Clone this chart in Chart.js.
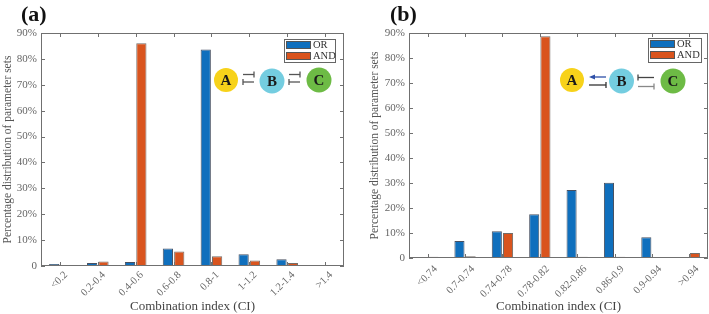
<!DOCTYPE html>
<html>
<head>
<meta charset="utf-8">
<script src="https://cdn.jsdelivr.net/npm/chart.js@4"></script>
<style>
html,body{margin:0;padding:0;background:#fff;}
#wrap{position:relative;width:709px;height:314px;overflow:hidden;}
canvas{position:absolute;top:0;}
</style>
</head>
<body>
<div id="wrap">
<canvas id="ca" width="354" height="314" style="left:0"></canvas>
<canvas id="cb" width="355" height="314" style="left:354px"></canvas>
</div>
<script>
// ---- data ----
const catsA = ['<0.2','0.2-0.4','0.4-0.6','0.6-0.8','0.8-1','1-1.2','1.2-1.4','>1.4'];
const orA   = [0.8, 1.2, 1.5, 6.8, 83.6, 4.5, 2.6, 0.3];
const andA  = [0.1, 1.7, 86.0, 5.6, 3.8, 2.1, 1.2, 0.0];
const catsB = ['<0.74','0.7-0.74','0.74-0.78','0.78-0.82','0.82-0.86','0.86-0.9','0.9-0.94','>0.94'];
const orB   = [0.0, 6.8, 10.7, 17.5, 27.2, 30.1, 8.3, 0.2];
const andB  = [0.5, 0.7, 10.0, 88.7, 0.5, 0.5, 0.0, 2.0];
const yTicks = [0,10,20,30,40,50,60,70,80,90];
const seriesNames = ['OR','AND'];

const BLUE = '#0f6fbd', ORANGE = '#d9541e';
const SERIF = '"Liberation Serif", "DejaVu Serif", serif';

function line(ctx,x1,y1,x2,y2){ctx.beginPath();ctx.moveTo(x1,y1);ctx.lineTo(x2,y2);ctx.stroke();}

const frame = {
  id:'frame',
  afterDatasetsDraw(chart){
    const {ctx, chartArea:a, scales:{x,y}} = chart;
    ctx.save();
    ctx.strokeStyle = '#707070'; ctx.lineWidth = 1;
    ctx.strokeRect(Math.round(a.left)+0.5, Math.round(a.top)+0.5, Math.round(a.right-a.left)-1, Math.round(a.bottom-a.top)-1);
    y.ticks.forEach(t=>{
      const py = Math.round(y.getPixelForValue(t.value))+0.5;
      line(ctx,a.left,py,a.left+4,py); line(ctx,a.right-4,py,a.right,py);
    });
    x.ticks.forEach((t,i)=>{
      const px = Math.round(x.getPixelForTick(i))+0.5;
      line(ctx,px,a.bottom,px,a.bottom-4); line(ctx,px,a.top,px,a.top+4);
    });
    ctx.restore();
  }
};

function circle(ctx,cx,cy,r,fill,letter){
  ctx.beginPath();ctx.arc(cx,cy,r,0,Math.PI*2);ctx.fillStyle=fill;ctx.fill();
  ctx.fillStyle='#1a1a1a';ctx.font='bold 15px '+SERIF;ctx.textAlign='center';ctx.textBaseline='middle';
  ctx.fillText(letter,cx,cy+1);
}
function tbar(ctx,x1,x2,y,barAt,color){
  ctx.strokeStyle=color;ctx.lineWidth=1.3;
  line(ctx,x1,y,x2,y);
  const bx = barAt==='r'?x2:x1;
  line(ctx,bx,y-3,bx,y+3);
}
function arrowL(ctx,x1,x2,y,color){
  ctx.strokeStyle=color;ctx.fillStyle=color;ctx.lineWidth=1.3;
  line(ctx,x1+3,y,x2,y);
  ctx.beginPath();ctx.moveTo(x1,y);ctx.lineTo(x1+6,y-2.5);ctx.lineTo(x1+6,y+2.5);ctx.closePath();ctx.fill();
}

const deco = {
  id:'deco',
  afterDraw(chart,args,o){
    const ctx = chart.ctx;
    ctx.save();
    // panel label
    ctx.fillStyle='#111';ctx.font='bold 22px '+SERIF;ctx.textAlign='left';ctx.textBaseline='alphabetic';
    ctx.fillText(o.label,o.labelX,21);
    // legend
    const L=o.legend;
    ctx.fillStyle='#fff';ctx.fillRect(L.x,L.y,L.w,L.h);
    ctx.strokeStyle='#666';ctx.lineWidth=1;ctx.strokeRect(L.x+0.5,L.y+0.5,L.w-1,L.h-1);
    chart.data.datasets.forEach((ds,i)=>{
      const sy = L.y+2+i*11;
      ctx.fillStyle=ds.backgroundColor;ctx.fillRect(L.x+2,sy,25,8);
      ctx.strokeStyle='#555';ctx.strokeRect(L.x+2.5,sy+0.5,24,7);
      ctx.fillStyle='#333';ctx.font='10.5px '+SERIF;ctx.textBaseline='middle';ctx.textAlign='left';
      ctx.fillText(ds.label,L.x+29,sy+4.5);
    });
    // diagram
    if(o.diagram==='a'){
      circle(ctx,226,80,12,'#f7d21a','A');
      circle(ctx,272,81,12.5,'#74cde0','B');
      circle(ctx,319,80,12.5,'#6dbb45','C');
      tbar(ctx,243,254,74.5,'r','#555');
      tbar(ctx,243,254,82,'l','#555');
      tbar(ctx,289,300,74.5,'r','#555');
      tbar(ctx,289,300,82,'l','#555');
    } else {
      const d=-354;
      circle(ctx,572+d,80,12,'#f7d21a','A');
      circle(ctx,621.5+d,81,12.5,'#74cde0','B');
      circle(ctx,673+d,81,12.5,'#6dbb45','C');
      arrowL(ctx,589+d,606+d,77,'#2e50a8');
      tbar(ctx,589+d,606+d,85,'r','#333');
      tbar(ctx,638+d,654+d,77.5,'l','#444');
      tbar(ctx,638+d,654+d,86.5,'r','#888');
    }
    ctx.restore();
  }
};

function makeChart(id,cats,orv,andv,cfg){
  return new Chart(document.getElementById(id),{
    type:'bar',
    data:{labels:cats,datasets:[
      {label:seriesNames[0],data:orv,backgroundColor:BLUE,borderColor:'rgba(40,50,70,0.85)',borderWidth:1,categoryPercentage:0.6,barPercentage:0.9},
      {label:seriesNames[1],data:andv,backgroundColor:ORANGE,borderColor:'rgba(70,60,55,0.75)',borderWidth:1,categoryPercentage:0.6,barPercentage:0.9}
    ]},
    options:{
      responsive:false,animation:false,
      layout:{padding:{top:33,right:cfg.padRight,left:cfg.padLeft,bottom:0}},
      plugins:{legend:{display:false},tooltip:{enabled:false},
        deco:{label:cfg.label,labelX:cfg.labelX,legend:cfg.legend,diagram:cfg.diagram}},
      scales:{
        x:{
          grid:{display:true,drawOnChartArea:false,drawTicks:false},
          border:{display:false},
          ticks:{font:{family:SERIF,size:10.5},color:'#666',minRotation:45,maxRotation:45,padding:cfg.xpad,labelOffset:cfg.xoff,autoSkip:false},
          title:{display:true,text:'Combination index (CI)',font:{family:SERIF,size:13},color:'#444',padding:{top:0,bottom:0}},
          afterFit(s){s.height=cfg.xh;}
        },
        y:{
          min:0,max:90,
          afterBuildTicks(s){s.ticks=yTicks.map(v=>({value:v}));},
          grid:{display:true,drawOnChartArea:false,drawTicks:false},
          border:{display:false},
          ticks:{font:{family:SERIF,size:11},color:'#666',padding:4,callback:v=>v===0?'0':v+'%'},
          title:{display:true,text:'Percentage distribution of parameter sets',font:{family:SERIF,size:11.5},color:'#555',padding:{top:1,bottom:0}},
          afterFit(s){s.width=cfg.yw;}
        }
      }
    },
    plugins:[frame,deco]
  });
}

makeChart('ca',catsA,orA,andA,{padRight:10,padLeft:0,xh:48,yw:41,xpad:3,xoff:6,label:'(a)',labelX:21,
  legend:{x:284,y:39,w:52,h:24},diagram:'a'});
makeChart('cb',catsB,orB,andB,{padRight:1,padLeft:13,xh:56,yw:42,xpad:5,xoff:8,label:'(b)',labelX:36,
  legend:{x:648-354,y:38,w:54,h:25},diagram:'b'});
</script>
</body>
</html>
